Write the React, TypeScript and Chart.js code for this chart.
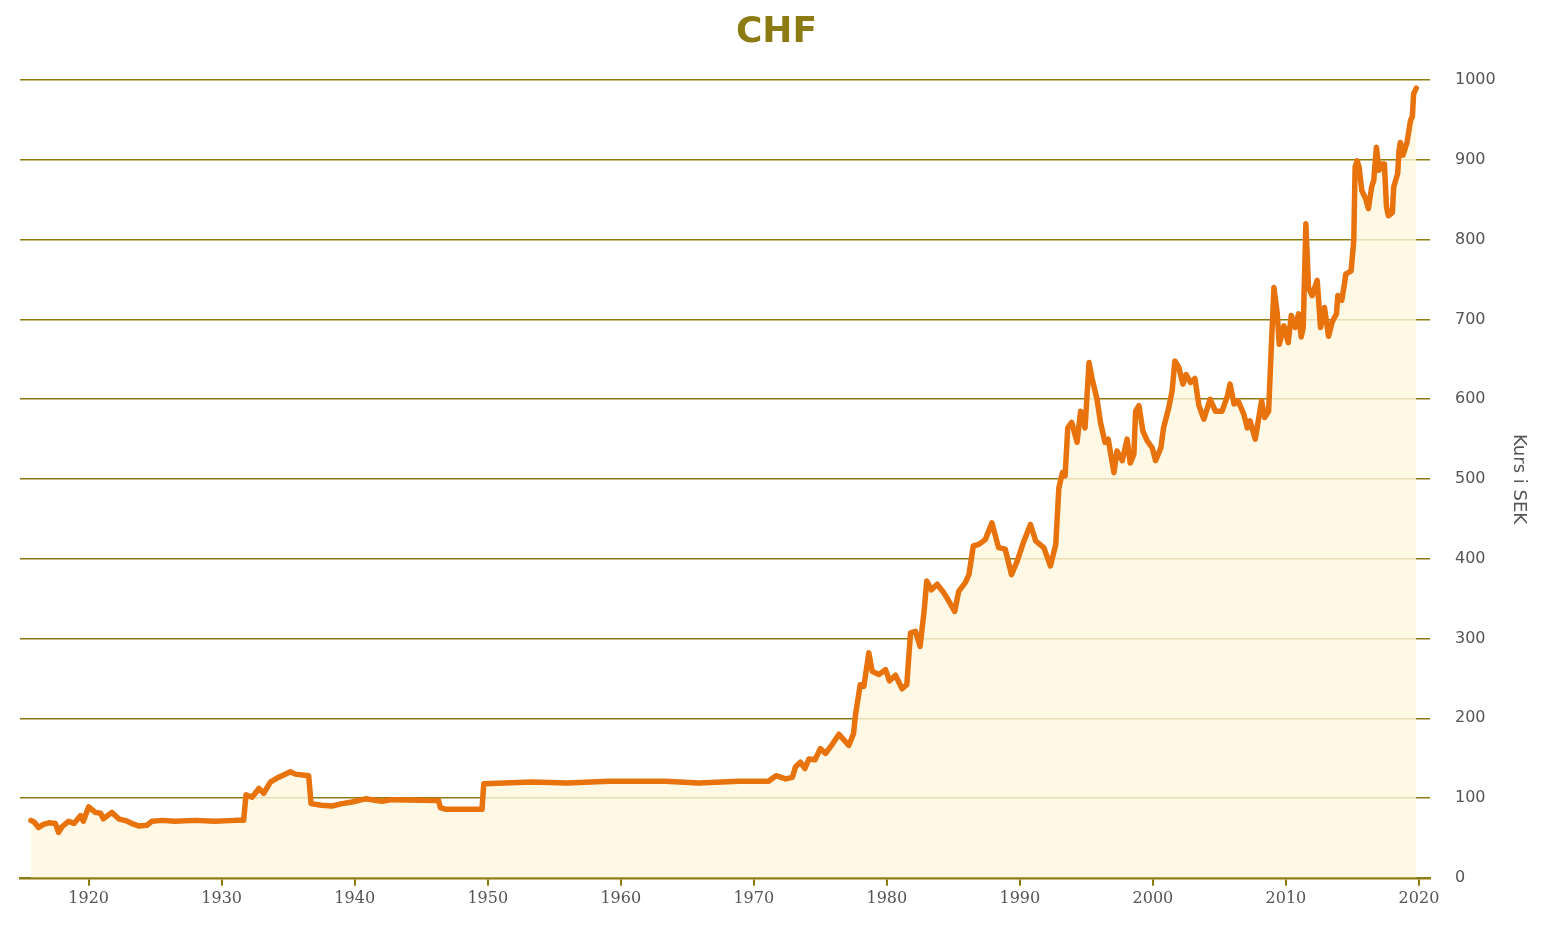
import { useEffect, useRef } from 'react';
import { Chart, registerables } from 'chart.js';

Chart.register(...registerables);

// CHF course in SEK
const YEARS = [
  1915.66, 1915.9, 1916.24, 1916.6, 1917.0, 1917.5, 1917.74, 1918.0, 1918.5, 1918.9,
  1919.4, 1919.6, 1920.0, 1920.5, 1920.9, 1921.1, 1921.75, 1922.26, 1922.9, 1923.26,
  1923.76, 1924.4, 1924.76, 1925.5, 1926.5, 1928, 1929.5, 1931, 1931.65, 1931.83,
  1932.28, 1932.8, 1933.16, 1933.66, 1934.16, 1934.66, 1935.16, 1935.54, 1936.54, 1936.72,
  1937.5, 1938.3, 1939.05, 1939.8, 1940.8, 1942.05, 1942.8, 1946.3, 1946.44, 1946.8,
  1949.57, 1949.7, 1953.3, 1956, 1959.1, 1963.36, 1965.86, 1968.9, 1971.1, 1971.67,
  1972.4, 1972.9, 1973.13, 1973.5, 1973.84, 1974.14, 1974.6, 1975.0, 1975.4, 1975.8,
  1976.4, 1976.77, 1977.14, 1977.5, 1977.64, 1978.0, 1978.27, 1978.65, 1978.9, 1979.4,
  1979.9, 1980.2, 1980.65, 1981.15, 1981.5, 1981.78, 1982.15, 1982.5, 1982.8, 1983.0,
  1983.35, 1983.78, 1984.3, 1984.66, 1985.1, 1985.4, 1985.9, 1986.17, 1986.5, 1986.9,
  1987.4, 1987.9, 1988.4, 1988.9, 1989.37, 1989.8, 1990.3, 1990.8, 1991.2, 1991.8,
  1992.3, 1992.7, 1992.93, 1993.2, 1993.4, 1993.6, 1993.9, 1994.3, 1994.56, 1994.9,
  1995.2, 1995.44, 1995.8, 1996.06, 1996.4, 1996.64, 1997.07, 1997.3, 1997.7, 1998.06,
  1998.3, 1998.57, 1998.7, 1998.95, 1999.25, 1999.57, 1999.95, 2000.2, 2000.6, 2000.8,
  2001.2, 2001.45, 2001.65, 2001.95, 2002.26, 2002.5, 2002.83, 2003.16, 2003.46, 2003.83,
  2004.3, 2004.7, 2005.2, 2005.6, 2005.8, 2006.1, 2006.4, 2006.84, 2007.1, 2007.3,
  2007.7, 2008.0, 2008.17, 2008.4, 2008.7, 2008.9, 2009.1, 2009.35, 2009.5, 2009.85,
  2010.17, 2010.4, 2010.7, 2010.95, 2011.15, 2011.3, 2011.5, 2011.7, 2011.97, 2012.35,
  2012.6, 2012.9, 2013.2, 2013.5, 2013.8, 2013.9, 2014.2, 2014.4, 2014.5, 2014.9,
  2015.1, 2015.2, 2015.35, 2015.5, 2015.7, 2016.0, 2016.2, 2016.44, 2016.6, 2016.8,
  2017.0, 2017.25, 2017.4, 2017.56, 2017.7, 2018.0, 2018.1, 2018.4, 2018.5, 2018.6,
  2018.8, 2019.1, 2019.37, 2019.5, 2019.6, 2019.8,
];

const KURS = [
  72, 70, 63, 67, 69, 68, 57, 64, 71, 68,
  78, 71, 89, 82, 81, 74, 82, 74, 71, 68,
  65, 66, 71, 72, 71, 72, 71, 72, 72, 104,
  101, 112, 106, 120, 125, 129, 133, 130, 128, 93,
  91, 90, 93, 95, 99, 96, 98, 97, 88, 86,
  86, 118, 120, 119, 121, 121, 119, 121, 121, 128,
  124, 126, 139, 145, 137, 149, 148, 162, 156, 165,
  180, 173, 166, 181, 204, 242, 240, 282, 259, 255,
  261, 247, 254, 237, 242, 307, 309, 290, 334, 372,
  361, 368, 357, 347, 334, 359, 370, 380, 416, 418,
  424, 445, 414, 412, 380, 397, 422, 443, 422, 414,
  391, 418, 489, 508, 504, 564, 571, 546, 585, 564,
  646, 625, 600, 571, 546, 550, 508, 535, 523, 550,
  520, 531, 585, 592, 560, 548, 539, 523, 539, 564,
  590, 611, 648, 640, 619, 631, 621, 626, 592, 575,
  600, 585, 585, 604, 619, 594, 598, 581, 564, 573,
  550, 581, 598, 577, 585, 665, 740, 707, 669, 692,
  671, 705, 690, 707, 678, 690, 820, 740, 730, 749,
  690, 715, 679, 698, 707, 730, 724, 745, 757, 761,
  799, 891, 899, 891, 862, 851, 839, 866, 874, 916,
  887, 895, 895, 841, 830, 834, 866, 883, 912, 922,
  906, 922, 950, 954, 983, 990,
];

const X_TICKS = [1920, 1930, 1940, 1950, 1960, 1970, 1980, 1990, 2000, 2010, 2020];
const Y_TICKS = [0, 100, 200, 300, 400, 500, 600, 700, 800, 900, 1000];

const OLIVE = '#8b7b12';
const LABEL = '#555555';

export default function App() {
  const canvasRef = useRef<HTMLCanvasElement | null>(null);
  const chartRef = useRef<Chart | null>(null);

  useEffect(() => {
    if (!canvasRef.current) return;
    if (chartRef.current) chartRef.current.destroy();

    const points = YEARS.map((year, i) => ({ x: year, y: KURS[i] }));

    chartRef.current = new Chart(canvasRef.current, {
      type: 'line',
      data: {
        datasets: [
          {
            label: 'CHF',
            data: points,
            borderColor: '#e8720c',
            borderWidth: 5.5,
            borderJoinStyle: 'round',
            borderCapStyle: 'round',
            backgroundColor: 'rgba(255, 246, 222, 0.8)',
            fill: 'origin',
            pointRadius: 0,
            tension: 0,
          },
        ],
      },
      options: {
        animation: false,
        responsive: true,
        maintainAspectRatio: false,
        layout: { padding: { left: 20, right: 12, top: 0, bottom: 26 } },
        plugins: {
          legend: { display: false },
          tooltip: { enabled: false },
          title: {
            display: true,
            text: 'CHF',
            color: OLIVE,
            font: { family: 'DejaVu Sans', size: 36, weight: 'bold' },
            padding: { top: 11, bottom: 26 },
          },
        },
        scales: {
          x: {
            type: 'linear',
            min: 1914.84,
            max: 2020.83,
            afterBuildTicks: (scale: any) => {
              scale.ticks = X_TICKS.map((v) => ({ value: v }));
            },
            grid: {
              drawOnChartArea: false,
              drawTicks: true,
              tickLength: 8,
              color: OLIVE,
              lineWidth: 2,
            },
            border: { display: true, color: OLIVE, width: 2.5 },
            ticks: {
              color: LABEL,
              font: { family: 'DejaVu Serif', size: 16 },
              padding: 3,
              maxRotation: 0,
              callback: (v: any) => String(v),
            },
          },
          y: {
            position: 'right',
            min: 0,
            max: 1000,
            afterBuildTicks: (scale: any) => {
              scale.ticks = Y_TICKS.map((v) => ({ value: v }));
            },
            afterFit: (scale: any) => {
              scale.width = 103;
            },
            grid: { color: OLIVE, lineWidth: 1.5, drawTicks: false },
            border: { display: false },
            ticks: {
              color: LABEL,
              font: { family: 'DejaVu Sans', size: 16 },
              padding: 25,
              callback: (v: any) => String(v),
            },
            title: {
              display: true,
              text: 'Kurs i SEK',
              color: LABEL,
              font: { family: 'DejaVu Sans', size: 18 },
              padding: { top: 4, bottom: 11 },
            },
          },
        },
      },
    });

    return () => {
      if (chartRef.current) {
        chartRef.current.destroy();
        chartRef.current = null;
      }
    };
  }, []);

  return (
    <div
      style={{
        position: 'absolute',
        left: 0,
        top: 0,
        width: '1545px',
        height: '937px',
        background: '#ffffff',
      }}
    >
      <canvas ref={canvasRef} />
    </div>
  );
}
